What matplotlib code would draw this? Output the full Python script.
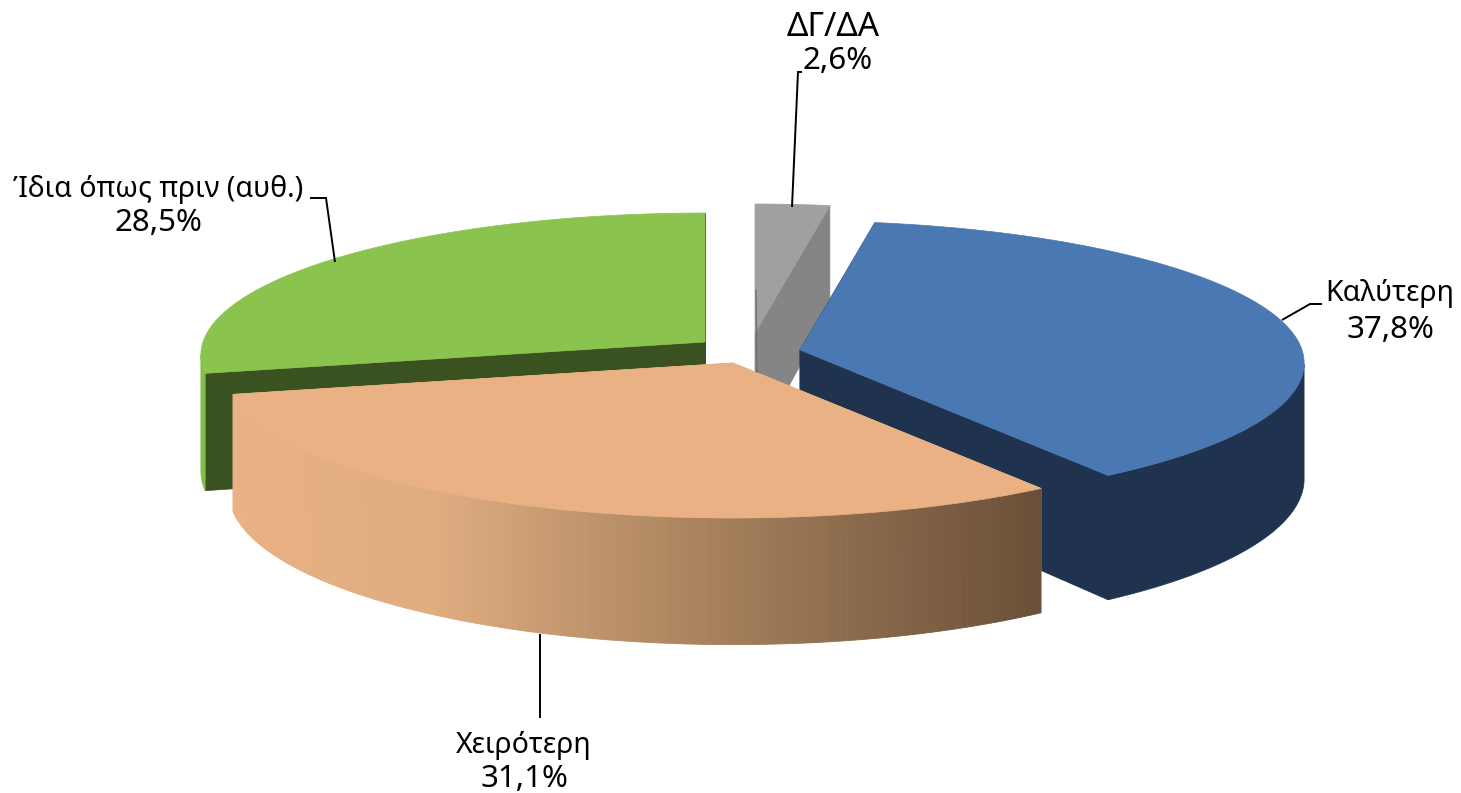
import numpy as np
import matplotlib
matplotlib.use('Agg')
import matplotlib.pyplot as plt
from matplotlib.colors import LinearSegmentedColormap
from matplotlib.patches import Polygon

plt.rcParams['font.family'] = ['Noto Sans', 'DejaVu Sans']

# data
categories = ['Καλύτερη', 'Χειρότερη', 'Ίδια όπως πριν (αυθ.)', 'ΔΓ/ΔΑ']
values = [37.8, 31.1, 28.5, 2.6]

# where every exploded slice has its tip (pixels), and its colours
tips = [(800, 350), (733, 363), (705, 342), (755, 333)]
top_colors = ['#4A78B2', '#E9B184', '#8BC34F', '#A0A0A0']
cut_colors = ['#1F334F', '#E9B184', '#3A5120', '#858585']
wall_colors = ['#1F334F', None, '#86BC4A', '#858585']
draw_order = [3, 2, 0, 1]

# leader lines and label centres
leaders = [
    [(1282, 320), (1310, 304), (1322, 304)],
    [(540, 634), (540, 718)],
    [(310, 198), (326, 198), (335, 262)],
    [(802, 72), (798, 72), (792, 207)],
]
name_pos = [(1390, 294), (524, 745), (158, 189), (833, 27)]
value_pos = [(1390, 330), (524, 779), (158, 223), (838, 61)]
name_sizes = [20.5, 20.5, 20.5, 24]
VALUE_SIZE = 22.5

RX, RY, PERSP, DEPTH = 502, 140.8, 0.0916, 115

wall_cmap = LinearSegmentedColormap.from_list(
    'wall', ['#E9B184', '#DFAD80', '#B68D66', '#8E6D4E', '#6A4F38'])


def scale(angle):
    return 1 / (1 + PERSP * np.cos(np.radians(angle)))


def project(tip, angle):
    """angle in degrees clockwise from the back of the pie"""
    a = np.radians(angle)
    s = scale(angle)
    return tip[0] + RX * np.sin(a) * s, tip[1] - RY * np.cos(a) * s


def drop(point, angle):
    return point[0], point[1] + DEPTH * scale(angle)


fig = plt.figure(figsize=(14.61, 7.93), dpi=100, facecolor='white')
ax = fig.add_axes([0, 0, 1, 1])
ax.set_xlim(0, 1461)
ax.set_ylim(793, 0)
ax.axis('off')

# slice angles from the values, the grey one ends where the blue one starts
shares = np.array(values) * 3.6
starts = shares[-1] + np.concatenate(([0], np.cumsum(shares)[:-1]))
ends = starts + shares

for i in draw_order:
    tip = tips[i]
    angles = np.linspace(starts[i], ends[i], 160)
    xs, ys = project(tip, angles)
    arc = list(zip(xs, ys))
    lower = [drop(p, a) for p, a in zip(arc, angles)]

    # the two cut faces
    for edge, low in ((arc[0], lower[0]), (arc[-1], lower[-1])):
        face = [tip, edge, low, (tip[0], tip[1] + DEPTH)]
        ax.add_patch(Polygon(face, closed=True, fc=cut_colors[i], ec=cut_colors[i], lw=0.5))

    # only the part of the outer wall that faces the viewer
    front = np.cos(np.radians(angles)) < -PERSP
    arc_f = [p for p, f in zip(arc, front) if f]
    lower_f = [p for p, f in zip(lower, front) if f]
    if len(arc_f) > 1:
        if wall_colors[i] is None:
            # orange one in strips because of its gradient
            for j in range(len(arc_f) - 1):
                t = (arc_f[j][0] - 232) / (1044 - 232)
                color = wall_cmap(np.clip(t, 0, 1))
                quad = [arc_f[j], arc_f[j + 1], lower_f[j + 1], lower_f[j]]
                ax.add_patch(Polygon(quad, closed=True, fc=color, ec=color, lw=0.6))
        else:
            ax.add_patch(Polygon(arc_f + lower_f[::-1], closed=True, fc=wall_colors[i],
                                 ec=wall_colors[i], lw=0.5))

    # top surface
    ax.add_patch(Polygon([tip] + arc, closed=True, fc=top_colors[i], ec=top_colors[i], lw=0.5))

# thin dark seam on the left of the grey slice
ax.plot([756, 757], [290, 372], color='#6E6E6E', lw=0.9, zorder=1.5)

for path in leaders:
    ax.plot(*zip(*path), color='black', lw=1.4, solid_capstyle='butt', solid_joinstyle='miter')

for i, (cat, val) in enumerate(zip(categories, values)):
    ax.text(*name_pos[i], cat, ha='center', va='center', fontsize=name_sizes[i], color='black')
    ax.text(*value_pos[i], f'{val:.1f}%'.replace('.', ','), ha='center', va='center',
            fontsize=VALUE_SIZE, color='black')

fig.savefig('out.png', dpi=100, facecolor='white')
